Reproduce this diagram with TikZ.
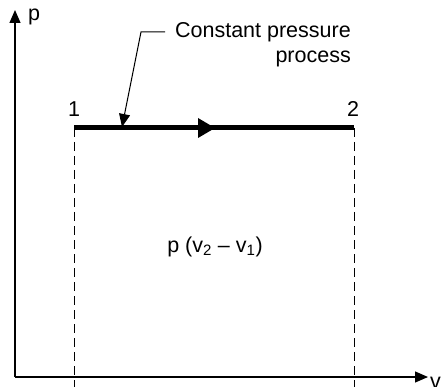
\documentclass[tikz,border=0pt]{standalone}
\usepackage{fontspec}
\setmainfont{Liberation Sans}
\usetikzlibrary{arrows.meta,decorations.markings}
\begin{document}
\begin{tikzpicture}[x=1pt,y=-1pt,
  axis/.style={line width=1.2pt,-{Triangle[length=13pt,width=11pt]}},
  guide/.style={line width=0.9pt,dash pattern=on 9pt off 5pt},
  proc/.style={line width=5pt,postaction={decorate},
    decoration={markings,mark=at position 0.475 with {\fill (-9pt,-10pt) -- (8pt,0) -- (-9pt,10pt) -- cycle;}}},
  lead/.style={line width=1pt,-{Triangle[length=13pt,width=11pt]}},
  lbl/.style={font=\fontsize{21.5}{25}\selectfont,inner sep=0pt}]
\useasboundingbox (0,0) rectangle (441,387);
\coordinate (O) at (15,377);
\coordinate (ytop) at (15,10);
\coordinate (xend) at (428,377);
\coordinate (s1) at (74,128);
\coordinate (s2) at (354,128);
\coordinate (b1) at (74,387);
\coordinate (b2) at (354,387);
\draw[axis] (O) -- (ytop);
\draw[axis] (O) -- (xend);
\node[lbl,anchor=west] (pl) at (28,17) {p};
\node[lbl,anchor=west] (vl) at (430,383) {v};
\draw[guide] (s1) -- (b1);
\draw[guide] (s2) -- (b2);
\draw[proc] (s1) -- (s2);
\node[lbl] (n1) at (74,109) {1};
\node[lbl] (n2) at (353,109) {2};
\node[lbl,align=right,anchor=north east] (txt) at (351,22) {Constant pressure\\process};
\coordinate (k) at (141,32);
\coordinate (tip) at (122,127);
\draw[lead] (165,32) -- (k) -- (tip);
\node[lbl] (area) at (215,247) {p (v\textsubscript{2} – v\textsubscript{1})};
\end{tikzpicture}
\end{document}
